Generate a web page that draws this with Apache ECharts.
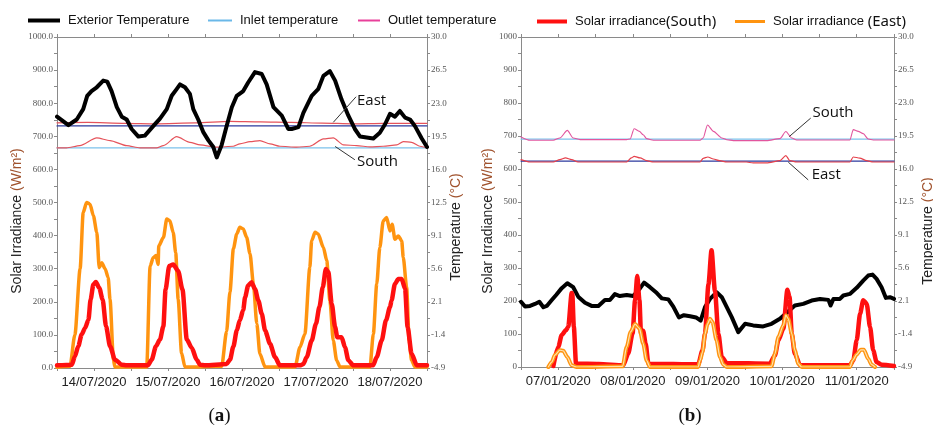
<!DOCTYPE html>
<html><head><meta charset="utf-8">
<script src="https://cdn.jsdelivr.net/npm/echarts@6/dist/echarts.min.js"></script>
<style>html,body{margin:0;padding:0;background:#fff}#c{width:933px;height:428px}</style>
</head><body><div id="c"></div>
<script>
// ---- tick labels ----
const datesA = ['14/07/2020','15/07/2020','16/07/2020','17/07/2020','18/07/2020'];
const datesB = ['07/01/2020','08/01/2020','09/01/2020','10/01/2020','11/01/2020'];
const tempTicks = ['-4.9','-1.4','2.1','5.6','9.1','12.5','16.0','19.5','23.0','26.5','30.0'];

// ---- panel (a): [hour, value] ----
const extA = [[0,21.6],[3.7,20.7],[6.4,21.3],[8.5,22.4],[9.8,23.8],[11.2,24.3],[12.9,24.7],[15.0,25.4],[16.3,25.3],[17.7,24.3],[19.4,22.6],[21.0,21.6],[22.6,21.3],[24.2,20.3],[26.4,19.5],[28.5,19.6],[31.2,20.6],[33.4,21.4],[35.6,22.4],[37.2,23.8],[38.8,24.5],[39.9,25.0],[41.5,24.7],[43.1,24.0],[44.2,22.4],[45.8,21.3],[47.4,20.0],[49.1,19.1],[50.7,18.4],[51.8,17.3],[53.4,18.6],[55.0,20.6],[56.7,22.6],[58.3,23.8],[60.4,24.3],[62.0,25.2],[64.2,26.3],[66.4,26.1],[68.0,25.0],[70.2,22.6],[72.9,21.7],[75.0,20.3],[76.1,20.3],[78.3,20.5],[79.9,22.0],[82.6,23.8],[84.7,24.5],[86.4,25.9],[88.5,26.4],[90.2,25.4],[92.3,23.4],[94.5,21.7],[96.6,20.3],[98.3,19.5],[100.4,19.4],[102.6,19.3],[104.7,19.9],[106.4,20.8],[108.0,21.9],[109.6,21.6],[111.2,22.2],[112.9,21.5],[114.5,21.3],[116.1,20.6],[118.3,19.3],[120,18.4]];
const inletEastA = [[0,20.62],[120,20.62]];
const outletEastA = [[0,20.95],[10,21.0],[22,20.9],[32,20.85],[45,20.95],[56,21.1],[66,21.05],[76,21.0],[86,20.92],[96,20.85],[106,20.9],[120,20.9]];
const inletSouthA = [[0,18.3],[120,18.3]];
const outletSouthA = [[0,18.31],[3.1,18.31],[7.4,18.55],[12.9,19.36],[17.2,19.08],[22.6,18.55],[26.9,18.31],[32.3,18.31],[34.5,18.55],[38.8,19.49],[43.1,18.9],[46.4,18.62],[51.8,18.38],[57.2,18.48],[59.3,18.73],[62.6,18.97],[65.8,19.08],[69.1,18.73],[72.3,18.48],[77.7,18.38],[82.0,18.48],[86.4,19.25],[89.6,19.36],[92.9,18.62],[97.2,18.55],[101.5,18.41],[105.8,18.48],[110.2,18.62],[112.3,18.97],[115.0,18.9],[117.7,18.48],[120,18.31]];
const eastA = [[0,2],[4.2,5],[5.8,100],[7.5,300],[8.5,470],[9.6,500],[10.7,495],[11.8,460],[12.9,410],[13.7,303],[14.5,318],[15.6,300],[16.6,273],[17.2,207],[18.3,25],[18.8,3],[29.1,3],[30.2,308],[31.2,333],[32.1,340],[32.8,313],[33.0,369],[34.5,394],[35.6,450],[36.6,445],[37.7,409],[38.5,348],[39.3,207],[40.4,45],[41.5,3],[53.4,5],[55.0,110],[56.1,230],[57.2,360],[58.3,405],[59.3,425],[60.4,420],[61.5,395],[62.6,345],[63.7,254],[64.8,134],[65.8,43],[67.5,3],[77.2,3],[78.8,63],[80.4,103],[82.0,304],[82.6,385],[83.7,410],[84.7,405],[86.4,364],[87.5,324],[88.5,204],[89.6,83],[90.7,23],[91.8,3],[101.5,3],[102.6,103],[103.7,254],[104.7,364],[105.8,444],[106.9,455],[108.0,414],[108.7,434],[109.6,389],[110.7,399],[111.8,384],[112.3,334],[113.4,244],[114.2,83],[115.0,23],[116.1,3],[120,3]];
const southA = [[0,8],[4.8,10],[5.8,35],[6.9,66],[8.0,101],[9.1,121],[10.2,146],[10.9,207],[11.8,252],[12.6,260],[13.7,242],[14.8,207],[15.9,126],[17.2,66],[18.8,25],[21.0,10],[22.6,8],[29.5,8],[30.7,25],[32.1,66],[33.4,86],[34.5,126],[35.2,237],[36.4,308],[37.7,313],[39.3,293],[40.7,237],[42.1,86],[43.7,61],[45.3,25],[46.4,10],[48,8],[55.0,12],[56.1,25],[57.2,65],[58.3,113],[59.3,144],[60.4,175],[61.0,214],[62.0,249],[63.1,259],[64.2,239],[65.3,204],[66.4,164],[67.5,113],[69.1,73],[70.7,33],[72.3,8],[79.0,8],[79.9,12],[81.0,33],[82.6,83],[84.0,134],[85.1,184],[86.2,244],[87.2,299],[88.0,289],[89.1,194],[90.2,124],[90.9,93],[92.3,93],[93.4,63],[94.5,23],[96.1,8],[102.5,8],[103.7,33],[105.3,83],[106.7,144],[108.0,184],[108.5,204],[109.6,254],[110.7,269],[111.8,269],[112.9,239],[113.7,124],[115.0,43],[116.7,8],[120,8]];

// ---- panel (b): [hour, value] ----
const extB = [[0,2.0],[1.3,1.49],[2.9,1.56],[4.5,1.77],[5.9,2.0],[7.2,1.42],[8.3,1.56],[9.9,2.19],[11.3,2.72],[13.1,3.44],[14.9,3.96],[16.8,3.54],[18.4,2.54],[20.6,1.9],[22.7,1.56],[24.9,1.56],[27.0,2.19],[28.6,2.19],[30.2,2.81],[31.8,2.6],[34.0,2.72],[36.1,2.6],[38.1,3.34],[39.6,4.03],[41.5,3.54],[43.7,2.92],[45.3,2.36],[47.4,2.25],[49.0,1.49],[50.8,0.34],[52.4,0.58],[54.4,0.47],[56.3,0.34],[57.8,0.0],[59.2,1.43],[60.8,2.3],[63.0,3.0],[64.6,2.48],[66.2,1.43],[67.8,0.37],[69.9,-1.21],[72.1,-0.33],[74.7,-0.5],[77.9,-0.61],[80.6,-0.33],[83.3,0.2],[85.7,0.9],[88.1,1.6],[90.8,1.78],[93.5,2.13],[96.2,2.3],[98.9,2.2],[99.6,1.6],[100.5,2.3],[102.6,2.3],[103.7,2.66],[105.8,2.83],[108.0,3.47],[110.1,4.24],[111.7,4.77],[113.1,4.87],[114.4,4.42],[116.0,3.54],[117.4,2.41],[118.7,2.48],[120,2.3]];
const inletSouthB = [[0,19.2],[120,19.2]];
const outletSouthB = [[0,19.43],[2.9,19.08],[10.4,19.08],[12.5,19.32],[14.9,20.12],[16.8,19.32],[19.0,19.15],[34.0,19.15],[35.1,19.22],[36.4,20.3],[38.1,20.02],[39.3,19.67],[40.4,19.25],[42.6,19.08],[57.6,19.08],[58.6,19.32],[60.0,20.7],[61.9,20.02],[64.6,19.32],[66.2,19.14],[68.3,19.04],[79.0,19.04],[83.3,19.25],[85.2,20.0],[87.1,19.32],[88.7,19.11],[105.8,19.11],[106.9,20.2],[108.5,20.02],[110.1,19.78],[111.7,19.21],[113.3,19.11],[120,19.11]];
const inletEastB = [[0,16.88],[120,16.88]];
const outletEastB = [[0,17.03],[2.9,16.78],[10.4,16.78],[12.5,17.03],[14.3,17.21],[16.3,17.03],[18.3,16.78],[34.0,16.78],[35.5,17.21],[36.4,17.38],[38.3,17.21],[40.4,16.92],[42.6,16.78],[57.6,16.78],[58.6,17.17],[60.1,17.31],[61.9,17.1],[63.9,16.92],[66.2,16.78],[72.5,16.78],[74.7,16.68],[79.0,16.68],[83.3,16.92],[85.2,17.45],[86.5,16.92],[88.7,16.78],[105.8,16.78],[106.9,17.31],[109.0,17.2],[111.2,16.92],[113.3,16.78],[120,16.78]];
const southB = [[10.4,3],[12.0,61],[13.1,97],[14.5,112],[15.2,122],[16.3,224],[16.5,222],[17.0,122],[17.7,10],[25,9],[32.9,5],[34.5,41],[35.9,102],[36.7,203],[37.4,276],[38.1,203],[38.6,102],[39.3,110],[40.1,71],[41.0,10],[57.0,8],[58.4,51],[59.2,101],[60.3,250],[61.3,354],[62.4,230],[63.5,101],[64.6,30],[66.2,12],[80.0,10],[81.7,35],[82.8,81],[84.4,116],[85.7,234],[86.4,212],[87.1,101],[88.1,40],[89.8,5],[105.8,5],[106.9,20],[108.0,81],[109.1,162],[110.1,202],[111.2,192],[112.3,121],[113.3,51],[114.4,15],[116.0,7],[120,3]];
const eastB = [[8.8,0],[9.9,15],[10.9,36],[12.5,51],[13.6,49],[14.9,30],[16.3,5],[17.9,0],[32.7,2],[34.0,61],[35.3,107],[36.7,130],[38.1,117],[39.3,71],[40.4,20],[41.5,0],[57.0,0],[57.6,20],[58.4,45],[59.2,100],[60.0,130],[60.8,146],[61.6,136],[62.9,81],[64.0,30],[65.1,7],[66.2,0],[80.6,2],[81.7,40],[82.8,91],[84.4,126],[85.2,157],[86.0,146],[87.1,101],[88.1,51],[89.2,10],[90.3,0],[105.8,0],[106.7,20],[108.0,38],[109.3,52],[110.3,52],[111.7,25],[112.8,7],[113.9,0]];

const AX = '#8a8a8a';
const chart = echarts.init(document.getElementById('c'), null, {renderer:'canvas'});

function xAxes(grid, dates){
  return [
    {gridIndex:grid, type:'value', min:0, max:120, interval:12, position:'bottom',
     axisLine:{onZero:false, lineStyle:{color:AX}}, axisTick:{length:3, lineStyle:{color:AX}},
     axisLabel:{formatter:v => (v % 24 === 12) ? dates[(v-12)/24] : '', margin:8, fontSize:13, color:'#222', fontFamily:'Liberation Sans'},
     splitLine:{show:false}},
    {gridIndex:grid, type:'value', min:0, max:120, interval:12, position:'top',
     axisLine:{onZero:false, lineStyle:{color:AX}}, axisTick:{length:3, lineStyle:{color:AX}},
     axisLabel:{show:false}, splitLine:{show:false}}
  ];
}
function yAxes(grid, dec){
  return [
    {gridIndex:grid, type:'value', min:0, max:1000, interval:100, position:'left',
     axisLine:{show:true, onZero:false, lineStyle:{color:AX}}, axisTick:{show:true, length:3, lineStyle:{color:AX}},
     minorTick:{show:true, splitNumber:2, length:3, lineStyle:{color:AX}},
     axisLabel:{formatter:v => v.toFixed(dec), fontSize:9, color:'#555', fontFamily:'Liberation Serif', margin:4},
     splitLine:{show:false}},
    {gridIndex:grid, type:'value', min:-4.9, max:30, interval:3.49, position:'right',
     axisLine:{show:true, onZero:false, lineStyle:{color:AX}}, axisTick:{show:true, length:3, lineStyle:{color:AX}},
     minorTick:{show:true, splitNumber:2, length:3, lineStyle:{color:AX}},
     axisLabel:{formatter:v => tempTicks[Math.round((v+4.9)/3.49)], fontSize:9, color:'#555', fontFamily:'Liberation Serif', margin:4},
     splitLine:{show:false}}
  ];
}
function line(name, data, xi, yi, color, width, z, extra){
  return Object.assign({type:'line', name, data, xAxisIndex:xi, yAxisIndex:yi, showSymbol:false, symbol:'none',
    lineStyle:{color, width, cap:'round', join:'round'}, itemStyle:{color}, z, animation:false}, extra||{});
}
const sm = {smooth:0.25, smoothMonotone:'x'};

const series = [
  // panel a
  line('Inlet temperature', inletEastA, 0, 1, '#2c3a9e', 1.2, 2),
  line('Outlet temperature', outletEastA, 0, 1, '#e5535b', 1.2, 2, sm),
  line('Inlet temperature', inletSouthA, 0, 1, '#7cc2ec', 1.2, 2),
  line('Outlet temperature', outletSouthA, 0, 1, '#e5535b', 1.2, 2, sm),
  line('Exterior Temperature', extA, 0, 1, '#000', 4, 3),
  line('Solar irradiance (East)', eastA, 0, 0, '#ff9410', 3.5, 4, sm),
  line('Solar irradiance(South)', southA, 0, 0, '#ff1010', 4.5, 5, sm),
  // panel b
  line('Inlet temperature', inletSouthB, 2, 3, '#7cc2ec', 1.2, 2),
  line('Outlet temperature', outletSouthB, 2, 3, '#e2569e', 1.1, 2, sm),
  line('Inlet temperature', inletEastB, 2, 3, '#2c3a9e', 1.2, 2),
  line('Outlet temperature', outletEastB, 2, 3, '#e5404b', 1.2, 2, sm),
  line('Exterior Temperature', extB, 2, 3, '#000', 4, 3),
  line('Solar irradiance(South)', southB, 2, 2, '#ff1010', 4.5, 4, sm),
  line('Solar irradiance (East)', eastB, 2, 2, '#ff9410', 4, 5, sm),
  line('eastCore', eastB, 2, 2, '#ffe2b0', 1.2, 6, Object.assign({silent:true}, sm))
];

const legTxt = {fontFamily:'Liberation Sans', fontSize:13, color:'#111', padding:[0,0,0,3],
  rich:{b:{fontFamily:'Noto Sans', fontSize:15, color:'#111'}}};
function leg(left, name, color, w, h){
  return {left, top:14, padding:0, icon:'rect', itemWidth:w, itemHeight:h, selectedMode:false,
    data:[{name, itemStyle:{color}}], textStyle:legTxt,
    formatter: n => n.replace(/\((South|East)\)/, '{b|($1)}')};
}

const option = {
  backgroundColor:'#fff',
  animation:false,
  grid:[{left:57, top:37, width:370, height:331}, {left:521, top:37, width:373, height:330}],
  xAxis:[...xAxes(0, datesA), ...xAxes(1, datesB)],
  yAxis:[...yAxes(0, 1), ...yAxes(1, 0)],
  legend:[
    leg(28, 'Exterior Temperature', '#000', 32, 4),
    leg(208, 'Inlet temperature', '#6ab8e8', 24, 2),
    leg(358, 'Outlet temperature', '#e8409a', 22, 2),
    leg(537, 'Solar irradiance(South)', '#ff1010', 30, 4),
    leg(735, 'Solar irradiance (East)', '#ff9410', 30, 3)
  ],
  series
};
chart.setOption(option);

// ---- annotations (anchored in data space) ----
const annots = [
  {axes:{xAxisIndex:0, yAxisIndex:1}, text:'East', at:[97.3,23.3], from:[97.0,23.7], to:[89.6,21.0]},
  {axes:{xAxisIndex:0, yAxisIndex:1}, text:'South', at:[97.3,16.84], from:[96.6,17.06], to:[90.2,18.46]},
  {axes:{xAxisIndex:2, yAxisIndex:3}, text:'South', at:[93.8,22.04], from:[93.2,21.42], to:[86.3,19.47]},
  {axes:{xAxisIndex:2, yAxisIndex:3}, text:'East', at:[93.5,15.42], from:[92.4,14.89], to:[86.0,16.76]}
];
const graphic = [];
annots.forEach(a => {
  const p = chart.convertToPixel(a.axes, a.at);
  const f = chart.convertToPixel(a.axes, a.from);
  const t = chart.convertToPixel(a.axes, a.to);
  graphic.push({type:'line', shape:{x1:f[0], y1:f[1], x2:t[0], y2:t[1]}, style:{stroke:'#333', lineWidth:1}, z:20});
  graphic.push({type:'text', x:p[0], y:p[1], z:20, style:{text:a.text, fill:'#111', font:'15px "Open Sans"', align:'left', verticalAlign:'middle'}});
});
// axis titles
const brown = '#a0522d';
function vtitle(x, y, text, rich){
  return {type:'text', x, y, rotation:Math.PI/2, z:20,
    style:{text, fill:'#222', font:'14px "Liberation Sans"', align:'center', verticalAlign:'middle', rich}};
}
const richU = {u:{fill:brown, fontSize:14, fontFamily:'Liberation Sans'}};
graphic.push(vtitle(17.5, 221, 'Solar Irradiance {u|(W/m²)}', richU));
graphic.push(vtitle(488, 221, 'Solar Irradiance {u|(W/m²)}', richU));
graphic.push(vtitle(456, 227, 'Temperature {u|(°C)}', richU));
graphic.push(vtitle(928, 231, 'Temperature {u|(°C)}', richU));
// panel captions
const capRich = {b:{fontWeight:'bold', fontSize:19, fontFamily:'Liberation Serif', fill:'#111'}};
graphic.push({type:'text', x:219.5, y:416, z:20, style:{text:'({b|a})', fill:'#111', font:'19px "Liberation Serif"', align:'center', verticalAlign:'middle', rich:capRich}});
graphic.push({type:'text', x:690, y:416, z:20, style:{text:'({b|b})', fill:'#111', font:'19px "Liberation Serif"', align:'center', verticalAlign:'middle', rich:capRich}});
chart.setOption({graphic});
</script></body></html>
